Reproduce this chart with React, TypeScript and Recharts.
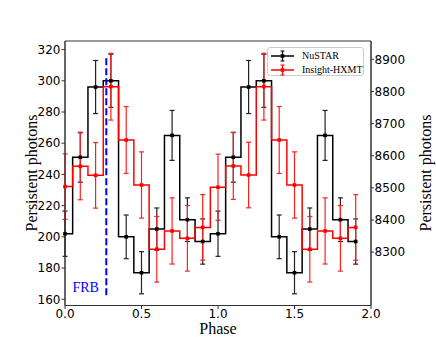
import React from "react";
import {
  ComposedChart,
  Line,
  ErrorBar,
  XAxis,
  YAxis,
  ReferenceLine,
  ReferenceArea,
} from "recharts";

// phase bins (two cycles)
const phase = [
  0.0, 0.1, 0.2, 0.3, 0.4, 0.5, 0.6, 0.7, 0.8, 0.9,
  1.0, 1.1, 1.2, 1.3, 1.4, 1.5, 1.6, 1.7, 1.8, 1.9,
];
const nustar = [
  202, 251, 296, 300, 200, 177, 205, 265, 211, 197,
  202, 251, 296, 300, 200, 177, 205, 265, 211, 197,
];
const nustarErr = [
  14.5, 16, 17, 17, 14, 13.5, 13.5, 16, 14, 14.5,
  14.5, 16, 17, 17, 14, 13.5, 13.5, 16, 14, 14.5,
];
const hxmt = [
  8504, 8567, 8539, 8815, 8649, 8509, 8309, 8366, 8343, 8377,
  8502, 8568, 8540, 8815, 8649, 8509, 8309, 8366, 8343, 8377,
];
const hxmtErr = [
  102, 104, 102, 104, 104, 103, 102, 103, 102, 102,
  103, 104, 102, 104, 104, 103, 102, 103, 102, 102,
];
const xTicks = [0, 0.5, 1, 1.5, 2];
const leftTicks = [160, 180, 200, 220, 240, 260, 280, 300, 320];
const rightTicks = [8300, 8400, 8500, 8600, 8700, 8800, 8900];
const frbPhase = 0.27;

const data = phase.map((p, i) => ({
  phase: p,
  nustar: nustar[i],
  nustarErr: nustarErr[i],
  hxmt: hxmt[i],
  hxmtErr: hxmtErr[i],
}));

const SERIF = "'Liberation Serif', 'Times New Roman', serif";
const SANS = "'DejaVu Sans', sans-serif";
const tickStyle = { fill: "#000", fontSize: 12, fontFamily: SANS };

const squareDot = (color: string) => (props: any) => {
  const { cx, cy, index } = props;
  if (cx == null || cy == null) return <g key={index} />;
  return (
    <rect key={index} x={cx - 1.8} y={cy - 1.8} width={3.6} height={3.6} fill={color} />
  );
};

const yTitle = (x: number) => () => (
  <text
    x={x}
    y={173}
    transform={`rotate(-90 ${x} 173)`}
    textAnchor="middle"
    dominantBaseline="central"
    fontFamily={SERIF}
    fontSize={16}
    fill="#000"
  >
    Persistent photons
  </text>
);

const phaseTitle = () => (
  <text x={218} y={334} textAnchor="middle" fontFamily={SERIF} fontSize={16} fill="#000">
    Phase
  </text>
);

const frbLabel = () => (
  <text x={72.5} y={291.5} fontFamily={SERIF} fontSize={14} fill="#0000ff">
    FRB
  </text>
);

function LegendRow({ color, label }: { color: string; label: string }) {
  return (
    <div style={{ display: "flex", alignItems: "center", height: 14 }}>
      <svg width={26} height={12} style={{ marginRight: 6 }}>
        <line x1={1} y1={6} x2={24} y2={6} stroke={color} strokeWidth={1.5} />
        <line x1={12.5} y1={1} x2={12.5} y2={11} stroke={color} strokeWidth={1.2} />
        <line x1={10.5} y1={1} x2={14.5} y2={1} stroke={color} strokeWidth={1} />
        <line x1={10.5} y1={11} x2={14.5} y2={11} stroke={color} strokeWidth={1} />
        <rect x={10.7} y={4.2} width={3.6} height={3.6} fill={color} />
      </svg>
      <span>{label}</span>
    </div>
  );
}

export default function App() {
  return (
    <div style={{ position: "absolute", left: 0, top: 0, width: 436, height: 344, background: "#fff" }}>
      <ComposedChart
        width={436}
        height={344}
        data={data}
        margin={{ top: 41, right: 0, bottom: 0, left: 0 }}
      >
        <XAxis
          dataKey="phase"
          type="number"
          domain={[0, 2]}
          ticks={xTicks}
          tickFormatter={(v: number) => v.toFixed(1)}
          tick={tickStyle}
          tickSize={3.5}
          tickMargin={0.5}
          height={38.5}
          axisLine={{ stroke: "#333" }}
          tickLine={{ stroke: "#333" }}
          label={phaseTitle}
        />
        <YAxis
          yAxisId="left"
          domain={[156, 325.5]}
          ticks={leftTicks}
          tick={tickStyle}
          tickSize={3.5}
          tickMargin={1}
          width={65}
          axisLine={{ stroke: "#333" }}
          tickLine={{ stroke: "#333" }}
          allowDataOverflow
          label={yTitle(31.5)}
        />
        <YAxis
          yAxisId="right"
          orientation="right"
          domain={[8134, 8957]}
          ticks={rightTicks}
          tick={tickStyle}
          tickSize={3}
          tickMargin={0.5}
          width={65}
          axisLine={{ stroke: "#333" }}
          tickLine={{ stroke: "#333" }}
          allowDataOverflow
          label={yTitle(425)}
        />
        <ReferenceArea
          yAxisId="left"
          x1={0}
          x2={2}
          y1={156}
          y2={325.5}
          fill="none"
          stroke="#333"
          strokeWidth={1}
        />
        <Line
          yAxisId="left"
          dataKey="nustar"
          type="step"
          stroke="#000"
          strokeWidth={1.5}
          dot={squareDot("#000")}
          isAnimationActive={false}
        >
          <ErrorBar dataKey="nustarErr" direction="y" width={2.5} stroke="#222" strokeWidth={1.2} />
        </Line>
        <Line
          yAxisId="right"
          dataKey="hxmt"
          type="step"
          stroke="#ff0000"
          strokeWidth={1.5}
          dot={squareDot("#ff0000")}
          isAnimationActive={false}
        >
          <ErrorBar dataKey="hxmtErr" direction="y" width={2.5} stroke="#ff2020" strokeWidth={1.2} />
        </Line>
        <ReferenceLine
          yAxisId="left"
          segment={[
            { x: frbPhase, y: 162.5 },
            { x: frbPhase, y: 315 },
          ]}
          stroke="#0000ff"
          strokeWidth={2}
          strokeDasharray="7 3"
          label={frbLabel}
        />
      </ComposedChart>
      <div
        style={{
          position: "absolute",
          left: 267,
          top: 46.5,
          width: 97,
          height: 29,
          border: "1px solid #ccc",
          borderRadius: 3,
          background: "rgba(255,255,255,0.8)",
          fontFamily: SERIF,
          fontSize: 10,
          color: "#000",
          padding: "1px 0 0 2px",
          boxSizing: "border-box",
        }}
      >
        <LegendRow color="#000" label="NuSTAR" />
        <LegendRow color="#ff0000" label="Insight-HXMT" />
      </div>
    </div>
  );
}
